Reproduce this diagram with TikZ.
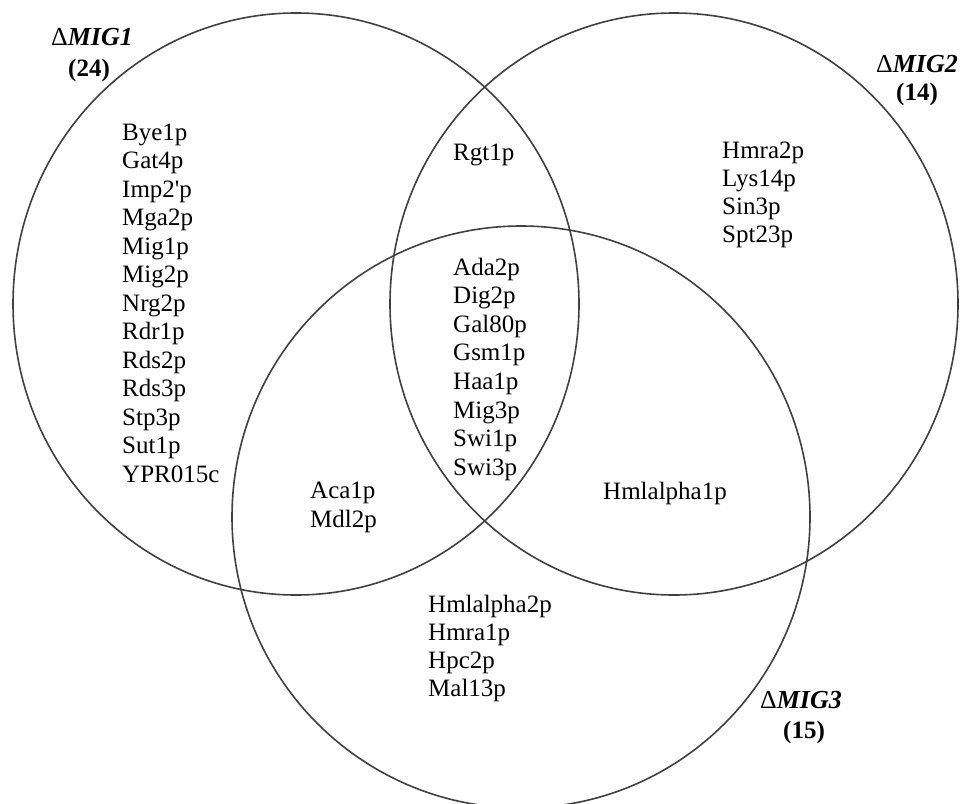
\documentclass[tikz,border=0pt]{standalone}
\usepackage{fontspec}
\setmainfont{Liberation Serif}
\begin{document}
\begin{tikzpicture}[x=1pt,y=-1pt,
  setline/.style={line width=1.6pt,draw=black!75},
  item/.style={anchor=base west,inner sep=0pt,font=\fontsize{25}{28}\selectfont},
  setname/.style={anchor=base,inner sep=0pt,font=\fontsize{26}{30}\selectfont},
  setcount/.style={anchor=base,inner sep=0pt,font=\fontsize{25}{28}\selectfont\bfseries}]
\useasboundingbox (0,0) rectangle (966,803);

% the three sets
\draw[setline] (296,304) ellipse [x radius=283,y radius=291];
\draw[setline] (674,304) ellipse [x radius=284,y radius=291];
\draw[setline] (521,517) ellipse [x radius=289,y radius=291];

% set names and sizes
\node[setname] (n1) at (92,45) {Δ\textbf{\textit{MIG1}}};
\node[setcount] (c1) at (89,76) {(24)};
\node[setname] (n2) at (917,72) {Δ\textbf{\textit{MIG2}}};
\node[setcount] (c2) at (917,100) {(14)};
\node[setname] (n3) at (801,708) {Δ\textbf{\textit{MIG3}}};
\node[setcount] (c3) at (804,738) {(15)};

% only MIG1
\foreach \t [count=\i from 0] in {Bye1p,Gat4p,{Imp2\textquotesingle p},Mga2p,Mig1p,Mig2p,Nrg2p,Rdr1p,Rds2p,Rds3p,Stp3p,Sut1p,YPR015c}
  \node[item] (a\i) at (122,140+28.5*\i) {\t};

% MIG1 and MIG2
\node[item] (ab) at (453,160) {Rgt1p};

% all three
\foreach \t [count=\i from 0] in {Ada2p,Dig2p,Gal80p,Gsm1p,Haa1p,Mig3p,Swi1p,Swi3p}
  \node[item] (abc\i) at (453,275+28.6*\i) {\t};

% only MIG2
\foreach \t [count=\i from 0] in {Hmra2p,Lys14p,Sin3p,Spt23p}
  \node[item] (b\i) at (722,158+28.3*\i) {\t};

% MIG1 and MIG3
\node[item] (ac0) at (310,498) {Aca1p};
\node[item] (ac1) at (310,527) {Mdl2p};

% MIG2 and MIG3
\node[item] (bc) at (603,499) {Hmlalpha1p};

% only MIG3
\foreach \t [count=\i from 0] in {Hmlalpha2p,Hmra1p,Hpc2p,Mal13p}
  \node[item] (c\i) at (428,612+28.3*\i) {\t};
\end{tikzpicture}
\end{document}
